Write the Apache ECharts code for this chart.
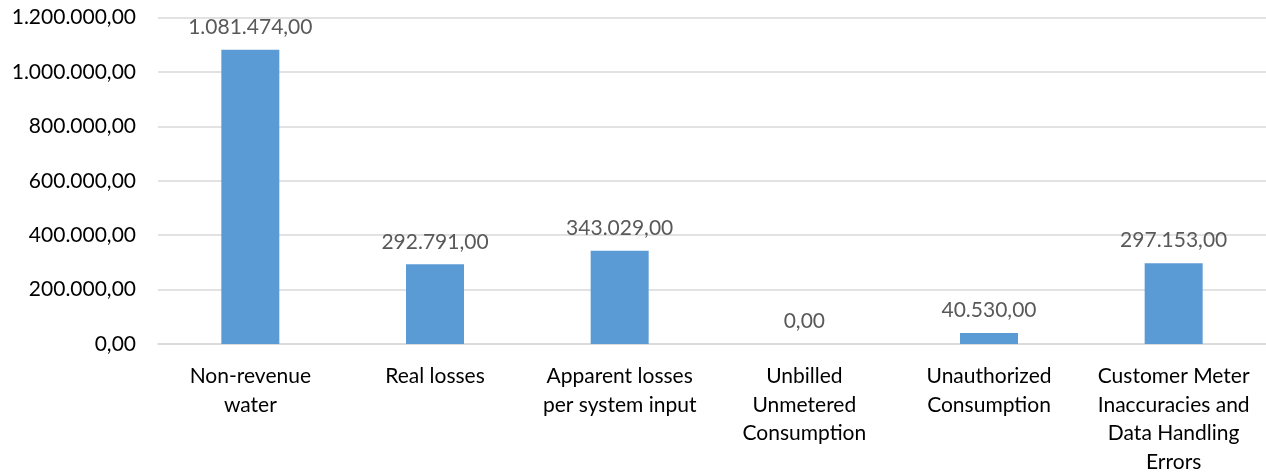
<!DOCTYPE html>
<html>
<head>
<meta charset="utf-8">
<script src="https://cdn.jsdelivr.net/npm/echarts@6/dist/echarts.min.js"></script>
<style>
  html, body { margin: 0; padding: 0; background: #fff; }
  #chart { width: 1266px; height: 476px; }
</style>
</head>
<body>
<div id="chart"></div>
<script>
// Water balance components (m³)
const categories = [
  'Non-revenue\nwater',
  'Real losses',
  'Apparent losses\nper system input',
  'Unbilled\nUnmetered\nConsumption',
  'Unauthorized\nConsumption',
  'Customer Meter\nInaccuracies and\nData Handling\nErrors'
];
const values = [1081474, 292791, 343029, 0, 40530, 297153];

// Number format with "." thousands separator and "," decimals
function fmt(v) {
  const parts = Math.abs(v).toFixed(2).split('.');
  const intPart = parts[0].replace(/\B(?=(\d{3})+(?!\d))/g, '.');
  return (v < 0 ? '-' : '') + intPart + ',' + parts[1];
}

const FONT = 'Lato, "Open Sans", sans-serif';
const chart = echarts.init(document.getElementById('chart'));
chart.setOption({
  animation: false,
  grid: { left: 158, top: 17.5, width: 1110, height: 327.5, containLabel: false },
  xAxis: {
    type: 'category',
    data: categories,
    axisLine: { show: true, lineStyle: { color: '#d9d9d9', width: 1.5 } },
    axisTick: { show: false },
    axisLabel: {
      color: '#000', fontSize: 21, fontFamily: FONT,
      lineHeight: 28.5, margin: 18, interval: 0
    }
  },
  yAxis: {
    type: 'value',
    min: 0, max: 1200000, interval: 200000,
    axisLine: { show: false },
    axisTick: { show: false },
    splitLine: { lineStyle: { color: '#d9d9d9', width: 1.5 } },
    axisLabel: {
      color: '#000', fontSize: 21, fontFamily: FONT, margin: 22,
      formatter: fmt
    }
  },
  series: [{
    type: 'bar',
    data: values,
    barWidth: 58,
    itemStyle: { color: '#5b9bd5' },
    label: {
      show: true, position: 'top', distance: 12,
      color: '#595959', fontSize: 21, fontFamily: FONT,
      formatter: p => fmt(p.value)
    }
  }]
});
</script>
</body>
</html>
